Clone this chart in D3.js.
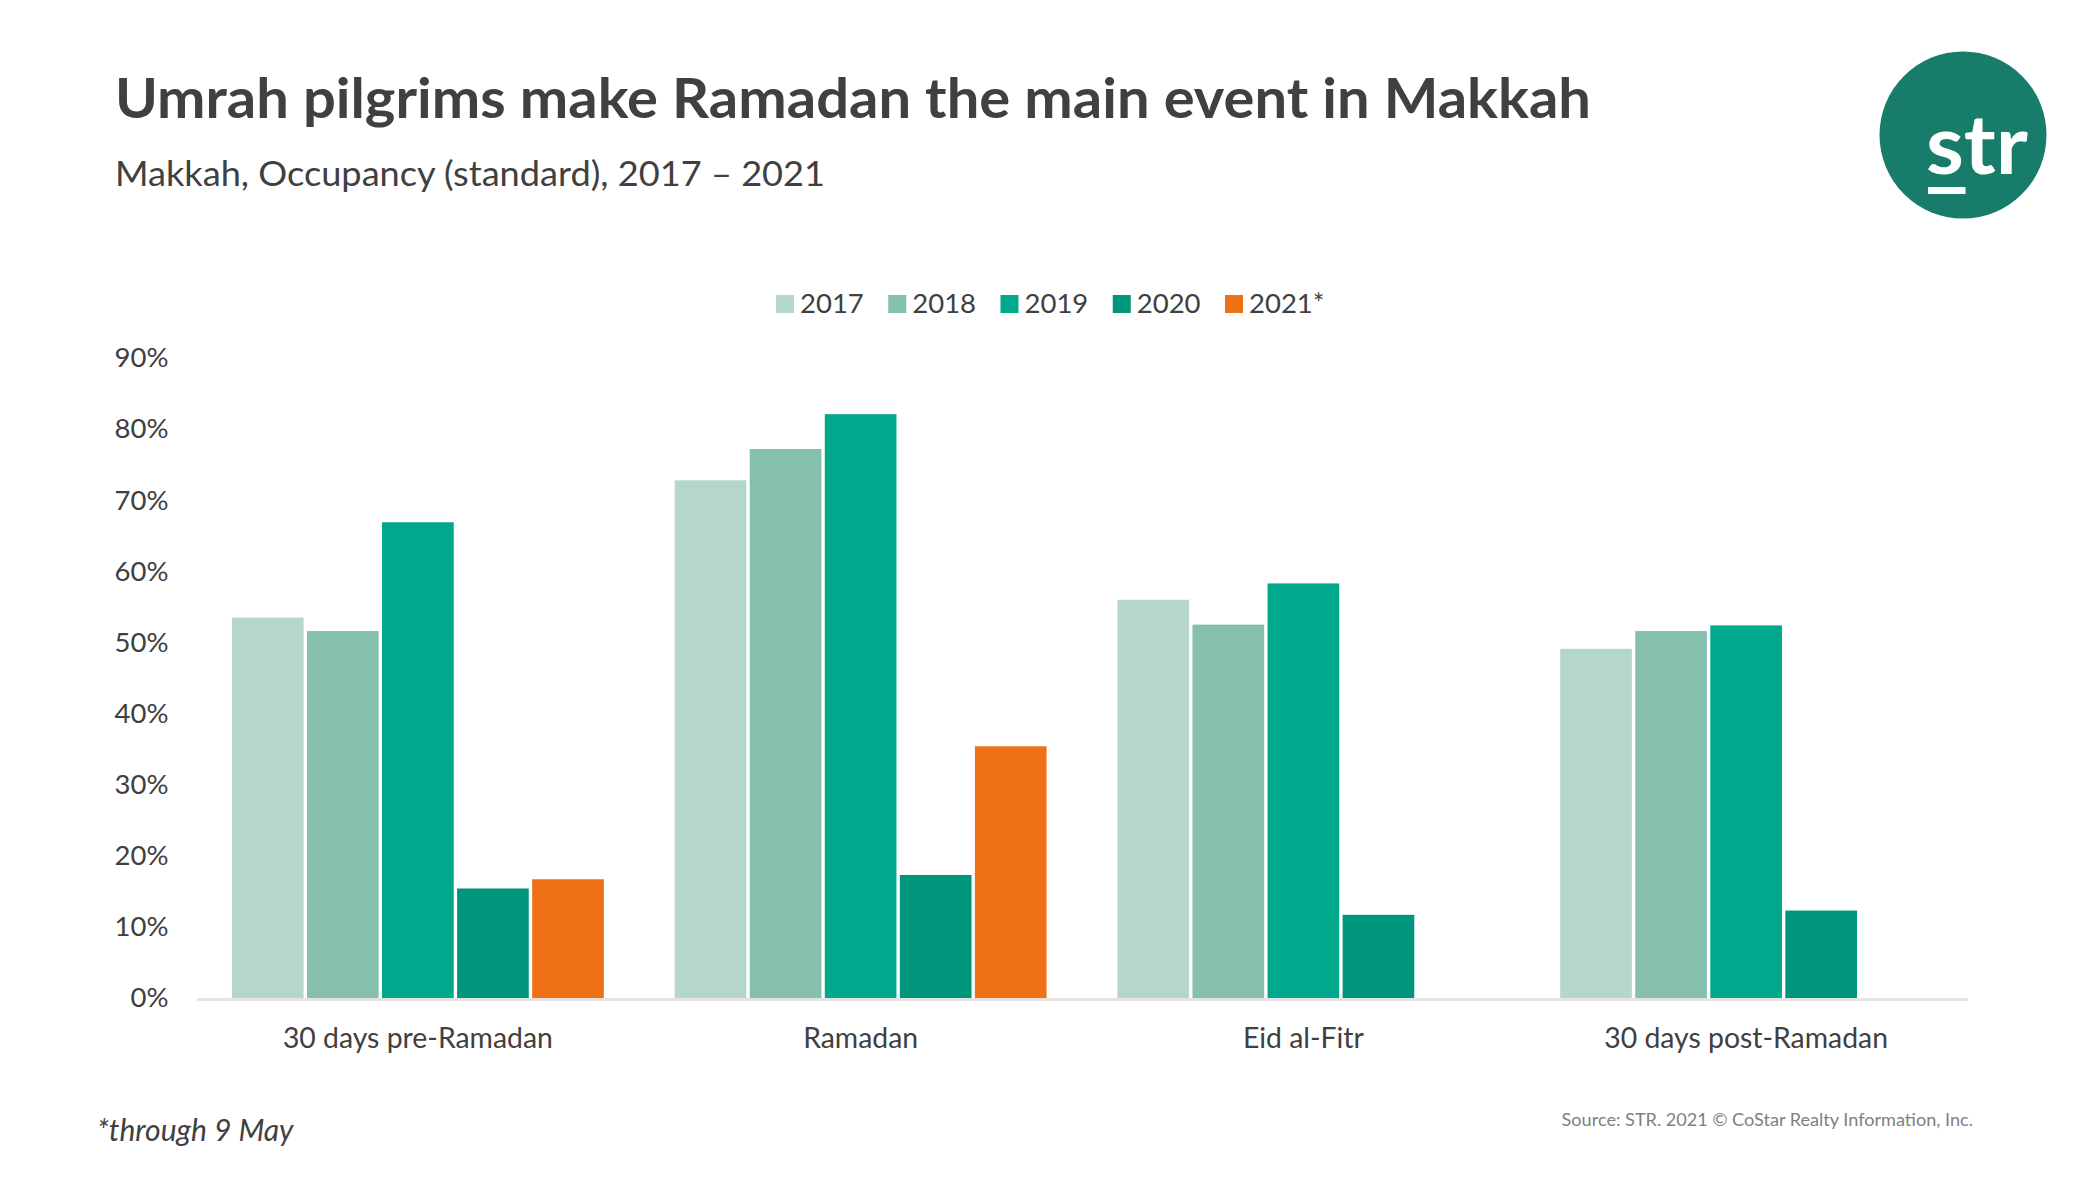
<!DOCTYPE html>
<html><head><meta charset="utf-8">
<script src="https://d3js.org/d3.v7.min.js"></script>
<style>
html,body{margin:0;padding:0;background:#fff}
svg{display:block}
text{font-family:Lato,sans-serif}
</style></head><body>
<svg id="c" width="2100" height="1181"></svg>
<script>
const categories = ["30 days pre-Ramadan","Ramadan","Eid al-Fitr","30 days post-Ramadan"];
const years = ["2017","2018","2019","2020","2021*"];
const values2017 = [53.5,72.8,56.0,49.1];
const values2018 = [51.6,77.2,52.5,51.6];
const values2019 = [66.9,82.1,58.3,52.4];
const values2020 = [15.4,17.3,11.7,12.3];
const values2021 = [16.7,35.4,null,null];
const seriesValues = [values2017,values2018,values2019,values2020,values2021];
const colors = ["#B5D6CC","#85C0AF","#00A98C","#00967B","#EE7116"];
const yTicks = [0,10,20,30,40,50,60,70,80,90];

const svg = d3.select("#c");
const plot = {left:196.5,right:1967.5,top:358,bottom:998};
const x0 = d3.scaleBand().domain(categories).range([plot.left,plot.right]).paddingInner(0.16).paddingOuter(0.08);
const x1 = d3.scaleBand().domain(years).range([0,x0.bandwidth()]).paddingInner(0.045);
const y = d3.scaleLinear().domain([0,90]).range([plot.bottom,plot.top]);

// bars
svg.append("g").selectAll("g").data(seriesValues).join("g")
  .attr("fill",(d,i)=>colors[i])
  .each(function(vals,si){
    d3.select(this).selectAll("rect").data(vals.map((v,ci)=>({v,ci})).filter(d=>d.v!==null)).join("rect")
      .attr("x",d=>x0(categories[d.ci])+x1(years[si]))
      .attr("y",d=>y(d.v))
      .attr("width",x1.bandwidth())
      .attr("height",d=>y(0)-y(d.v));
  });

// baseline + category labels
const ax = svg.append("g").attr("transform",`translate(0,${plot.bottom+1})`)
  .call(d3.axisBottom(x0).tickSize(0).tickPadding(29));
ax.select(".domain").attr("stroke","#E4E4E4").attr("stroke-width",3);
ax.selectAll("text").attr("font-size",28.4).attr("fill","#404040");

// y labels
const ay = svg.append("g").attr("transform",`translate(${plot.left},0)`)
  .call(d3.axisLeft(y).tickValues(yTicks).tickFormat(d=>d+"%").tickSize(0).tickPadding(28));
ay.select(".domain").remove();
ay.selectAll("text").attr("font-size",27.5).attr("fill","#404040");

// legend
const legendX = d3.scalePoint().domain(years).range([776,1225]);
const lg = svg.append("g").selectAll("g").data(years).join("g")
  .attr("transform",d=>`translate(${legendX(d)},295)`);
lg.append("rect").attr("width",18).attr("height",18).attr("fill",(d,i)=>colors[i]);
lg.append("text").attr("x",24).attr("y",18).attr("font-size",27.5).attr("fill","#404040").text(d=>d);

// titles
svg.append("text").attr("x",115).attr("y",118).attr("font-size",55.5).attr("font-weight",700).attr("fill","#404040")
  .attr("textLength",1476).attr("lengthAdjust","spacingAndGlyphs")
  .text("Umrah pilgrims make Ramadan the main event in Makkah");
svg.append("text").attr("x",115).attr("y",186).attr("font-size",34).attr("fill","#404040")
  .attr("textLength",710).attr("lengthAdjust","spacingAndGlyphs")
  .text("Makkah, Occupancy (standard), 2017 – 2021");

// notes
svg.append("text").attr("x",97).attr("y",1141).attr("font-size",30).attr("font-style","italic").attr("fill","#404040")
  .text("*through 9 May");
svg.append("text").attr("x",1973).attr("y",1126).attr("text-anchor","end").attr("font-size",18.1).attr("fill","#808080")
  .text("Source: STR. 2021 © CoStar Realty Information, Inc.");

// logo
const logo = svg.append("g");
logo.append("circle").attr("cx",1963).attr("cy",135).attr("r",83.5).attr("fill","#187C6A");
logo.append("text").attr("x",1926).attr("y",174).attr("font-size",82).attr("font-weight",700).attr("fill","#fff")
  .attr("textLength",102).attr("lengthAdjust","spacingAndGlyphs").text("str");
logo.append("rect").attr("x",1928).attr("y",187).attr("width",37.5).attr("height",7).attr("fill","#fff");
</script>
</body></html>
